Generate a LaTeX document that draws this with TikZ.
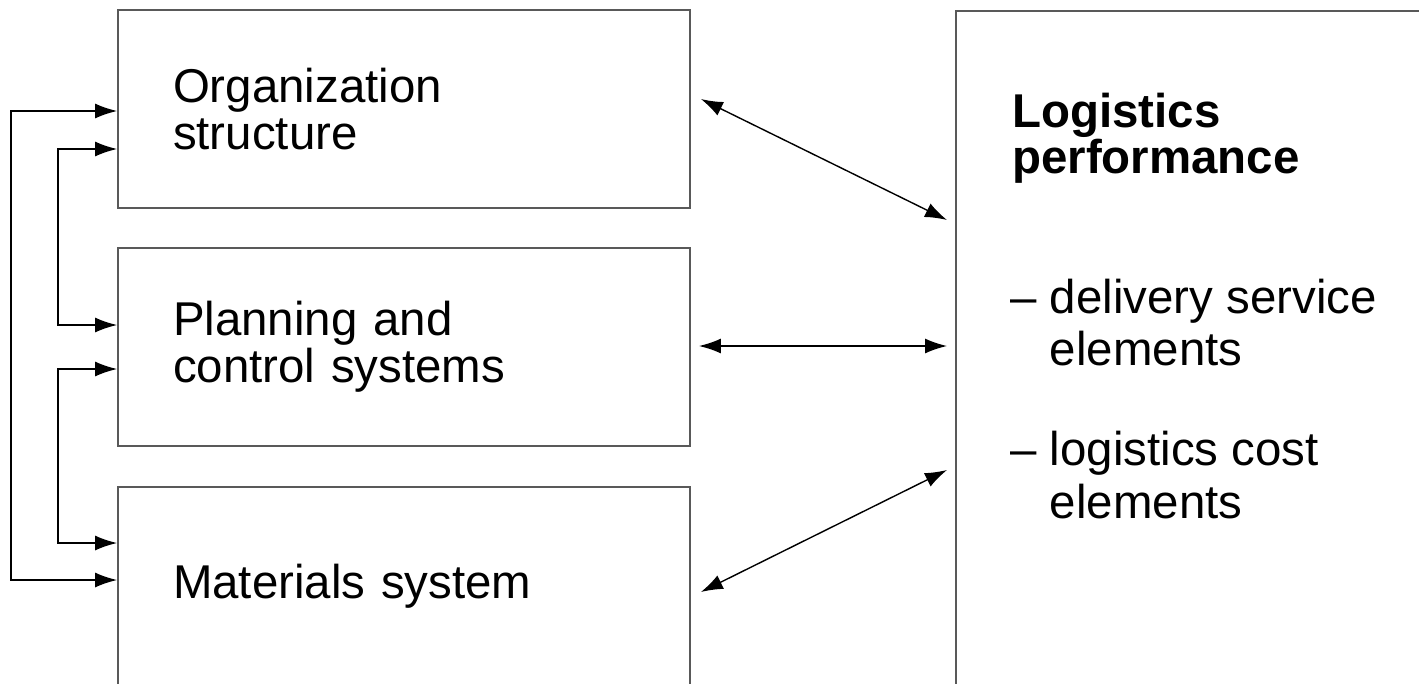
\documentclass[tikz,border=0pt]{standalone}
\usepackage{fontspec}
\setmainfont{Liberation Sans}
\usetikzlibrary{arrows.meta,calc,positioning}
\tikzstyle{block} = [rectangle, draw=black!65, line width=1.1pt, minimum width=11.44cm, minimum height=3.96cm, text width=9.24cm, inner xsep=1.1cm, inner ysep=0pt, align=left, font=\fontsize{27}{26.5}\selectfont]
\tikzstyle{bigblock} = [rectangle, draw=black!65, line width=1.1pt, minimum width=10cm, minimum height=14cm, anchor=north west]
\tikzstyle{line} = [draw, line width=0.8pt, {Latex[length=0.44cm,width=0.3cm]}-{Latex[length=0.44cm,width=0.3cm]}]

\begin{document}
\begin{tikzpicture}[x=0.02cm, y=-0.02cm]
    \useasboundingbox (0,0) rectangle (1419,683);
    \clip (0,0) rectangle (1419,683);
    % Place nodes
    \node [block] (org) at (404,109) {Organization\\structure};
    \node [block] (plan) at (404,347) {Planning and\\control systems};
    \node [block] (mat) at (404,586) {Materials system};
    \node [bigblock] (perf) at (955,10) {};
    \node [anchor=north west, inner sep=0pt, align=left, font=\fontsize{27}{25}\selectfont\bfseries] (perftitle) at (1012,93) {Logistics\\performance};
    \node [anchor=base west, inner sep=0pt, font=\fontsize{27}{30}\selectfont] (perflist) at (1010,313)
        {\begin{tabular}[t]{@{}l@{ }l@{}}–&delivery service\\&elements\\[27pt]–&logistics cost\\&elements\end{tabular}};
    % Draw edges
    \path [line] ($(org.west)+(0,2)$) -- ++(-106,0) |- ($(mat.west)+(0,-6)$);
    \path [line] ($(org.west)+(0,40)$) -- ++(-59,0) |- ($(plan.west)+(0,-22)$);
    \path [line] ($(plan.west)+(0,22)$) -- ++(-59,0) |- ($(mat.west)+(0,-43)$);
    \path [line] ($(org.east)+(10,-10)$) -- ($(perf.north west)+(-8,210)$);
    \path [line] ($(plan.east)+(8,-1)$) -- ($(perf.north west)+(-8,336)$);
    \path [line] ($(mat.east)+(10,6)$) -- ($(perf.north west)+(-8,460)$);
\end{tikzpicture}
\end{document}
